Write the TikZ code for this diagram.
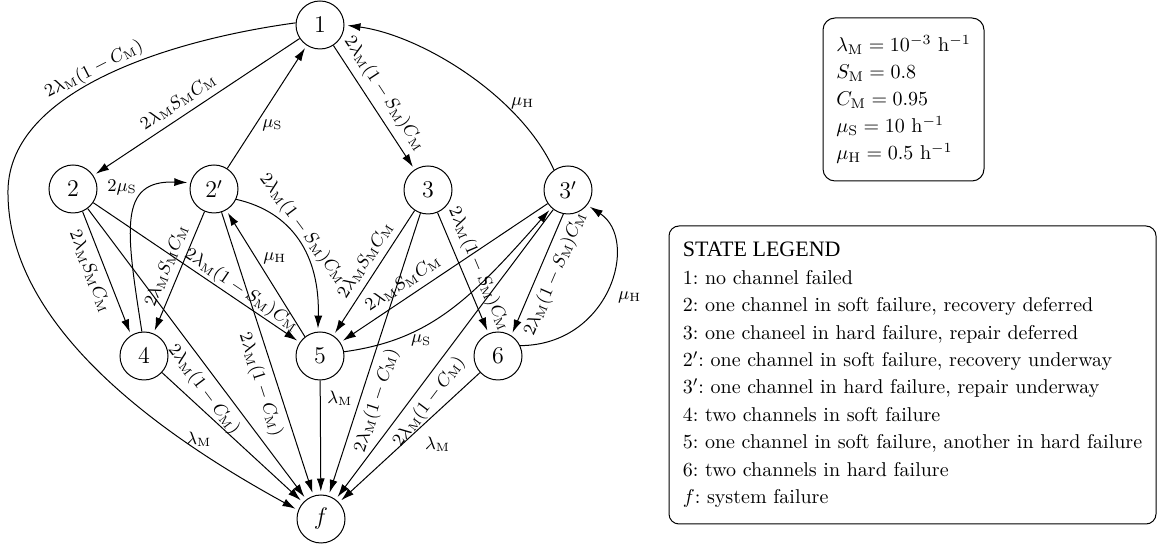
\documentclass[tikz,border=0pt]{standalone}
\usepackage{fontspec}
\newfontfamily\headfont{Liberation Serif}
\usetikzlibrary{arrows.meta}
% subscript M and the three failure rates used on the transitions
\newcommand\mM{_{\mathrm{M}}}
\newcommand\rateA{$2\lambda\mM S\mM C\mM$}
\newcommand\rateB{$2\lambda\mM(1-S\mM)C\mM$}
\newcommand\rateC{$2\lambda\mM(1-C\mM)$}
\tikzset{
  state/.style={draw, circle, line width=0.5pt, minimum size=24pt, inner sep=0pt, font=\large},
  edge/.style={line width=0.5pt, -{Latex[length=6.5pt,width=4pt]}, shorten >=1.5pt},
  lbl/.style={font=\small},
  parbox/.style={draw, rounded corners=6pt, line width=0.5pt, align=left,
    minimum width=80.5pt, minimum height=81.5pt, font=\fontsize{10}{13.5}\selectfont},
  legendbox/.style={draw, rounded corners=5pt, line width=0.5pt, align=left,
    minimum width=243.5pt, minimum height=149pt, font=\fontsize{10}{13.7}\selectfont}
}
\begin{document}
\begin{tikzpicture}[x=0.5pt, y=-0.5pt]
\useasboundingbox (0,0) rectangle (1157,549);

% states
\node[state] (n1)  at (320,25)  {$1$};
\node[state] (n2)  at (73,189)  {$2$};
\node[state] (n2p) at (214,189) {$2'$};
\node[state] (n3)  at (428,190) {$3$};
\node[state] (n3p) at (568,190) {$3'$};
\node[state] (n4)  at (144,356) {$4$};
\node[state] (n5)  at (320,356) {$5$};
\node[state] (n6)  at (498,356) {$6$};
\node[state] (nf)  at (321,519) {$f$};
\coordinate (bend1) at (8,190);

% transitions out of state 1
\draw[edge] (n1) -- (n2) node[lbl, pos=0.55, sloped, above] {\rateA};
\draw[edge] (n1) -- (n3) node[lbl, pos=0.46, sloped, above] {\rateB};
\draw[edge] (n1.175) .. controls (170,40) and (10,90) .. (bend1)
  node[lbl, pos=0.52, sloped, above, inner sep=0.5pt] {\rateC}
  .. controls (6,330) and (170,440) .. (nf.159);

% recoveries and repairs back to 1
\draw[edge] (n2p) -- (n1) node[lbl, pos=0.35, right] {$\mu_{\mathrm S}$};
\draw[edge] (n3p.125) .. controls (520,95) and (420,35) .. (n1.east)
  node[lbl, pos=0.32, right] {$\mu_{\mathrm H}$};

% state 2 and 2'
\draw[edge] (n2.-67) -- (n4.122) node[lbl, pos=0.44, sloped, below] {\rateA};
\draw[edge] (n2) -- (n5) node[lbl, pos=0.69, sloped, above, inner sep=0.5pt] {\rateB};
\draw[edge] (n2) -- (nf) node[lbl, pos=0.59, sloped, below] {\rateC};
\draw[edge] (n2p) -- (n4) node[lbl, pos=0.49, sloped, above] {\rateA};
\draw[edge] (n2p.-25) .. controls (292,212) and (320,255) .. (n5.95)
  node[lbl, pos=0.45, sloped, above, inner sep=0.5pt] {\rateB};
\draw[edge] (n2p) -- (nf) node[lbl, pos=0.59, sloped, below] {\rateC};

% state 4
\draw[edge] (n4.95) .. controls (126,230) and (118,180) .. (n2p.165)
  node[lbl, pos=0.8, left=6pt] {$2\mu_{\mathrm S}$};
\draw[edge] (n4) -- (nf) node[lbl, pos=0.4, below left] {$\lambda\mM$};

% state 3 and 3'
\draw[edge] (n3) -- (n5) node[lbl, pos=0.46, sloped, above] {\rateA};
\draw[edge] (n3) -- (n6) node[lbl, pos=0.52, sloped, above] {\rateB};
\draw[edge] (n3) -- (nf) node[lbl, pos=0.645, sloped, below] {\rateC};
\draw[edge] (n3p) -- (n5) node[lbl, pos=0.66, sloped, above] {\rateA};
\draw[edge] (n3p.-101) -- (n6.57) node[lbl, pos=0.44, sloped, below] {\rateB};
\draw[edge] (n3p) -- (nf) node[lbl, pos=0.63, sloped, below] {\rateC};

% state 5
\draw[edge] (n5.128) -- (n2p.-60) node[lbl, pos=0.62, right] {$\mu_{\mathrm H}$};
\draw[edge] (n5.10) .. controls (430,340) and (470,300) .. (n3p.227)
  node[lbl, pos=0.35, below] {$\mu_{\mathrm S}$};
\draw[edge] (n5) -- (nf) node[lbl, pos=0.16, right] {$\lambda\mM$};

% state 6
\draw[edge] (n6.25) .. controls (610,345) and (640,240) .. (n3p.-38)
  node[lbl, pos=0.45, right=4pt] {$\mu_{\mathrm H}$};
\draw[edge] (n6) -- (nf) node[lbl, pos=0.44, below right] {$\lambda\mM$};

% parameter values
\node[parbox] (params) at (903.5,99.5) {%
  $\lambda\mM = 10^{-3}\ \mathrm{h}^{-1}$\\
  $S\mM = 0.8$\\
  $C\mM = 0.95$\\
  $\mu_{\mathrm S} = 10\ \mathrm{h}^{-1}$\\
  $\mu_{\mathrm H} = 0.5\ \mathrm{h}^{-1}$};

% legend of states
\node[legendbox] (legend) at (912.5,375) {%
  {\headfont\fontsize{11}{13.7}\selectfont STATE LEGEND}\\
  1:\ no channel failed\\
  2:\ one channel in soft failure, recovery deferred\\
  3:\ one chaneel in hard failure, repair deferred\\
  $2'$:\ one channel in soft failure, recovery underway\\
  $3'$:\ one channel in hard failure, repair underway\\
  4:\ two channels in soft failure\\
  5:\ one channel in soft failure, another in hard failure\\
  6:\ two channels in hard failure\\
  $f$:\ system failure};
\end{tikzpicture}
\end{document}
